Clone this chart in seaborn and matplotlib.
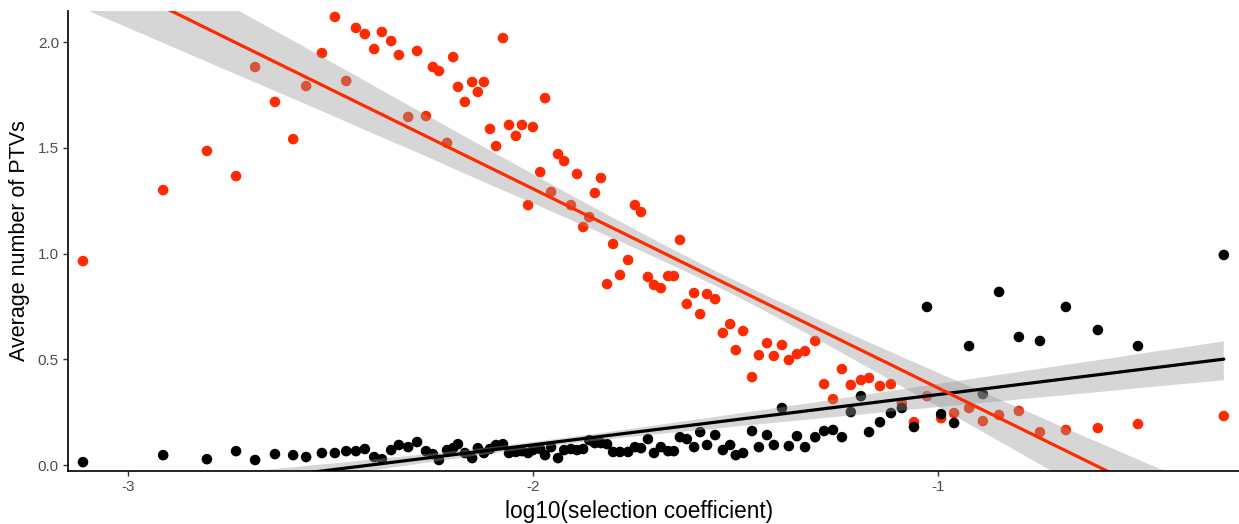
import numpy as np
import pandas as pd
import matplotlib
matplotlib.use("Agg")
import matplotlib.pyplot as plt
import seaborn as sns

# log10 of the selection coefficient for each bin
log_s = [
    -3.112, -2.914, -2.806, -2.734, -2.687, -2.638, -2.593, -2.561, -2.522, -2.490,
    -2.462, -2.438, -2.416, -2.393, -2.374, -2.351, -2.332, -2.309, -2.287, -2.265,
    -2.248, -2.233, -2.213, -2.198, -2.186, -2.169, -2.151, -2.137, -2.122, -2.107,
    -2.092, -2.075, -2.060, -2.043, -2.028, -2.013, -2.001, -1.983, -1.971, -1.956,
    -1.939, -1.924, -1.907, -1.892, -1.877, -1.862, -1.848, -1.833, -1.818, -1.803,
    -1.786, -1.766, -1.749, -1.734, -1.717, -1.702, -1.685, -1.667, -1.653, -1.638,
    -1.621, -1.603, -1.588, -1.571, -1.551, -1.532, -1.514, -1.500, -1.482, -1.460,
    -1.443, -1.423, -1.406, -1.386, -1.369, -1.349, -1.329, -1.304, -1.282, -1.260,
    -1.238, -1.216, -1.191, -1.171, -1.144, -1.117, -1.090, -1.060, -1.028, -0.993,
    -0.961, -0.924, -0.890, -0.850, -0.801, -0.749, -0.685, -0.606, -0.507, -0.295,
]

# average number of PTVs per bin, first group (red)
ptv_red = [
    0.965, 1.301, 1.486, 1.367, 1.883, 1.718, 1.542, 1.793, 1.949, 2.120,
    1.817, 2.068, 2.039, 1.968, 2.049, 2.006, 1.940, 1.647, 1.959, 1.651,
    1.883, 1.864, 1.524, 1.930, 1.789, 1.718, 1.812, 1.765, 1.812, 1.590,
    1.509, 2.020, 1.609, 1.557, 1.609, 1.230, 1.599, 1.386, 1.736, 1.292,
    1.471, 1.438, 1.230, 1.377, 1.126, 1.173, 1.287, 1.358, 0.856, 1.046,
    0.899, 0.970, 1.230, 1.197, 0.890, 0.852, 0.837, 0.894, 0.894, 1.065,
    0.762, 0.814, 0.714, 0.809, 0.785, 0.625, 0.667, 0.544, 0.634, 0.416,
    0.520, 0.577, 0.516, 0.568, 0.497, 0.525, 0.539, 0.587, 0.383, 0.312,
    0.454, 0.379, 0.402, 0.412, 0.374, 0.383, 0.293, 0.203, 0.326, 0.222,
    0.246, 0.270, 0.208, 0.237, 0.256, 0.156, 0.166, 0.175, 0.194, 0.232,
]

# average number of PTVs per bin, second group (black)
ptv_black = [
    0.014, 0.047, 0.028, 0.066, 0.024, 0.052, 0.047, 0.038, 0.057, 0.057,
    0.066, 0.066, 0.076, 0.038, 0.028, 0.071, 0.095, 0.085, 0.109, 0.066,
    0.052, 0.024, 0.071, 0.080, 0.099, 0.057, 0.033, 0.080, 0.057, 0.076,
    0.095, 0.099, 0.057, 0.062, 0.066, 0.057, 0.071, 0.076, 0.047, 0.085,
    0.033, 0.071, 0.076, 0.071, 0.076, 0.118, 0.104, 0.104, 0.099, 0.062,
    0.062, 0.062, 0.085, 0.080, 0.123, 0.057, 0.085, 0.066, 0.066, 0.132,
    0.123, 0.085, 0.156, 0.095, 0.142, 0.071, 0.095, 0.047, 0.057, 0.161,
    0.085, 0.142, 0.095, 0.270, 0.090, 0.137, 0.085, 0.132, 0.161, 0.166,
    0.132, 0.251, 0.326, 0.156, 0.203, 0.246, 0.270, 0.180, 0.748, 0.241,
    0.199, 0.563, 0.336, 0.819, 0.606, 0.587, 0.748, 0.639, 0.563, 0.994,
]

x_ticks = [-3, -2, -1]
y_ticks = [0.0, 0.5, 1.0, 1.5, 2.0]

RED = "#FF2A00"
BLACK = "#000000"
BAND = "#999999"

sns.set_theme(style="ticks")
plt.rcParams["font.family"] = ["Liberation Sans", "DejaVu Sans"]
plt.rcParams["axes.unicode_minus"] = False

df_red = pd.DataFrame({"log_s": log_s, "ptv": ptv_red})
df_black = pd.DataFrame({"log_s": log_s, "ptv": ptv_black})

fig = plt.figure(figsize=(12.39, 5.24), dpi=100)
ax = fig.add_axes([68 / 1239, 53 / 524, 1 - 68 / 1239, 460 / 524])

# points first, then both fitted lines with their confidence ribbons on top
sns.scatterplot(data=df_red, x="log_s", y="ptv", color=RED, s=58,
                linewidth=0, edgecolor="none", ax=ax, zorder=1)
sns.scatterplot(data=df_black, x="log_s", y="ptv", color=BLACK, s=58,
                linewidth=0, edgecolor="none", ax=ax, zorder=1)

for df, col in [(df_black, BLACK), (df_red, RED)]:
    n_before = len(ax.collections)
    sns.regplot(data=df, x="log_s", y="ptv", scatter=False, ci=88, n_boot=2000,
                seed=1, color=col, line_kws={"linewidth": 2.3}, ax=ax)
    for coll in ax.collections[n_before:]:
        coll.set_facecolor(BAND)
        coll.set_edgecolor("none")
        coll.set_alpha(0.4)

ax.set_xlim(-3.149, -0.2575)
ax.set_ylim(-0.028, 2.148)
ax.set_xticks(x_ticks)
ax.set_xticklabels([str(v) for v in x_ticks])
ax.set_yticks(y_ticks)
ax.set_yticklabels([f"{v:.1f}" for v in y_ticks])

for side in ["top", "right"]:
    ax.spines[side].set_visible(False)
for side in ["left", "bottom"]:
    ax.spines[side].set_color("black")
    ax.spines[side].set_linewidth(1.2)

ax.tick_params(axis="both", colors="#333333", length=3.5, width=1.0,
               labelsize=11, labelcolor="#4D4D4D", pad=3)

ax.set_xlabel("log10(selection coefficient)", fontsize=16.3, color="black")
ax.xaxis.set_label_coords(0.488, -0.062)
ax.set_ylabel("Average number of PTVs", fontsize=15.5, color="black", labelpad=6)

fig.savefig("out.png", dpi=100)
